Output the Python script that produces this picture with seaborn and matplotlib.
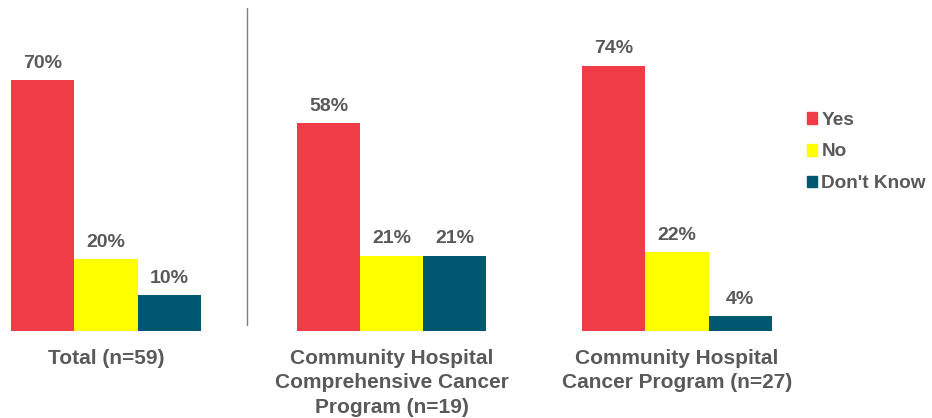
import matplotlib
matplotlib.use("Agg")
import matplotlib.pyplot as plt
import seaborn as sns
import pandas as pd
from matplotlib.lines import Line2D

groups = ["Total (n=59)",
          "Community Hospital\nComprehensive Cancer\nProgram (n=19)",
          "Community Hospital\nCancer Program (n=27)"]
responses = ["Yes", "No", "Don't Know"]
yes_vals = [70, 58, 74]
no_vals = [20, 21, 22]
dk_vals = [10, 21, 4]
colors = ["#F03C46", "#FFFF00", "#005870"]

rows = []
for g, y, n, d in zip(groups, yes_vals, no_vals, dk_vals):
    rows += [(g, "Yes", y), (g, "No", n), (g, "Don't Know", d)]
df = pd.DataFrame(rows, columns=["group", "response", "pct"])

sns.set_theme(style="white")
plt.rcParams["font.family"] = ["Liberation Sans", "DejaVu Sans"]
text_color = "#595959"

fig = plt.figure(figsize=(9.32, 4.18), dpi=100)
ax = fig.add_axes([0.0, 87.2 / 418, 800 / 932, 330.8 / 418])

sns.barplot(data=df, x="group", y="pct", hue="response", order=groups,
            hue_order=responses, palette=colors, width=0.662, linewidth=0,
            saturation=1, ax=ax, legend=False)

ax.set_xlim(-106 / 285.5, (800 - 106) / 285.5)
ax.set_ylim(0, 92.3)
for s in ax.spines.values():
    s.set_visible(False)
ax.set_yticks([])
ax.set_xlabel("")
ax.set_ylabel("")
ax.tick_params(axis="x", length=0, pad=13)
for lab in ax.get_xticklabels():
    lab.set_fontsize(15)
    lab.set_fontweight("bold")
    lab.set_color(text_color)
    lab.set_linespacing(1.36)

for cont in ax.containers:
    ax.bar_label(cont, labels=[f"{int(v)}%" for v in cont.datavalues],
                 padding=6, fontsize=14, fontweight="bold", color=text_color)

# divider line
fig.add_artist(Line2D([246.5 / 932, 246.5 / 932], [1 - 8 / 418, 1 - 325 / 418],
                      color="#7f7f7f", linewidth=1.0))

handles = [plt.Rectangle((0, 0), 1, 1, color=c) for c in colors]
leg = fig.legend(handles, responses, loc="center left",
                 bbox_to_anchor=(807 / 932, 1 - 152 / 418), frameon=False,
                 borderpad=0, borderaxespad=0,
                 handlelength=0.55, handleheight=0.55, handletextpad=0.2,
                 labelspacing=0.78, prop={"size": 13.7, "weight": "bold"})
for t in leg.get_texts():
    t.set_color(text_color)

fig.savefig("out.png", dpi=100)
